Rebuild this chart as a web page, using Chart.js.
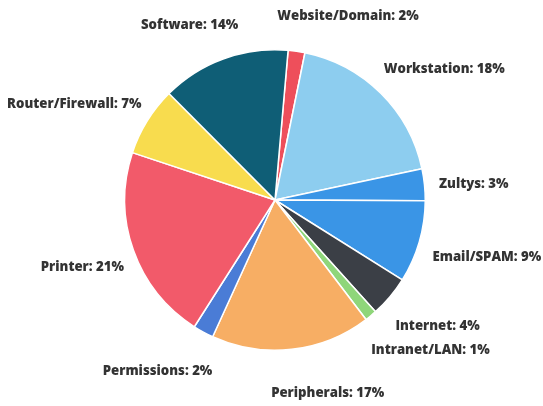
<!DOCTYPE html>
<html>
<head>
<meta charset="utf-8">
<script src="https://cdn.jsdelivr.net/npm/chart.js@4"></script>
<style>
  html, body { margin: 0; padding: 0; background: #fff; }
  #wrap { width: 543px; height: 406px; }
</style>
</head>
<body>
<div id="wrap"><canvas id="chart" width="543" height="406"></canvas></div>
<script>
const categories = ['Website/Domain', 'Workstation', 'Zultys', 'Email/SPAM', 'Internet', 'Intranet/LAN',
  'Peripherals', 'Permissions', 'Printer', 'Router/Firewall', 'Software'];
const shares = [1.8, 18.4, 3.4, 8.8, 4.4, 1.3, 17.1, 2.2, 21.0, 7.4, 13.8];
const sliceColors = ['#ee4f5b', '#8dcdef', '#3a95e6', '#3a95e6', '#3b3f46', '#8fd67a',
  '#f7ae64', '#4a7cd6', '#f25a6a', '#f8dc4e', '#0f5e76'];

const total = shares.reduce((a, b) => a + b, 0);

// draws "Name: NN%" outside each slice, left side right-aligned, right side left-aligned
const outsideLabels = {
  id: 'outsideLabels',
  afterDatasetsDraw(chart) {
    const ctx = chart.ctx;
    const meta = chart.getDatasetMeta(0);
    ctx.save();
    ctx.font = '800 13.2px "Open Sans"';
    ctx.fillStyle = '#333333';
    ctx.textBaseline = 'middle';
    meta.data.forEach((arc, i) => {
      const mid = (arc.startAngle + arc.endAngle) / 2;
      const R = 190;
      const x = arc.x + R * Math.cos(mid);
      const y = arc.y + R * Math.sin(mid) + 4;
      const pct = Math.round(shares[i] / total * 100);
      const text = categories[i] + ': ' + pct + '%';
      if (Math.cos(mid) >= 0) {
        ctx.textAlign = 'left';
        ctx.fillText(text, x - 25, y);
      } else {
        ctx.textAlign = 'right';
        ctx.fillText(text, x + 28, y);
      }
    });
    ctx.restore();
  }
};

new Chart(document.getElementById('chart').getContext('2d'), {
  type: 'pie',
  data: {
    labels: categories,
    datasets: [{
      data: shares,
      backgroundColor: sliceColors,
      borderColor: '#ffffff',
      borderWidth: 1.5,
    }]
  },
  options: {
    responsive: false,
    animation: false,
    rotation: 5,
    layout: { padding: { left: 124, right: 117, top: 49, bottom: 55 } },
    plugins: {
      legend: { display: false },
      tooltip: { enabled: false },
    }
  },
  plugins: [outsideLabels]
});
</script>
</body>
</html>
